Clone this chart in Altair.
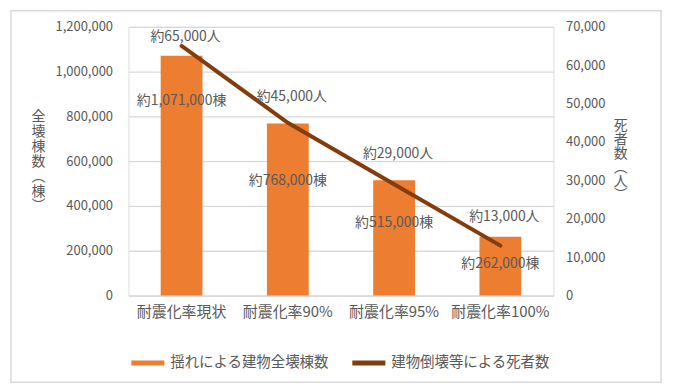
import altair as alt
import pandas as pd

categories = ["耐震化率現状", "耐震化率90%", "耐震化率95%", "耐震化率100%"]
buildings = [1071000, 768000, 515000, 262000]
deaths = [65000, 45000, 29000, 13000]
building_labels = ["約1,071,000棟", "約768,000棟", "約515,000棟", "約262,000棟"]
death_labels = ["約65,000人", "約45,000人", "約29,000人", "約13,000人"]
series_bar = "揺れによる建物全壊棟数"
series_line = "建物倒壊等による死者数"

# label offsets (styling, px)
bar_dy = [46, 58, 43, 27]
line_dy = [-9, -26, -30, -29]

FONT = "Noto Sans CJK JP"
GRAY = "#595959"
ORANGE = "#ED7D31"
BROWN = "#843C0C"

df = pd.DataFrame({
    "cat": categories,
    "buildings": buildings,
    "deaths": deaths,
    "blabel": building_labels,
    "dlabel": death_labels,
    "sb": [series_bar] * 4,
    "sl": [series_line] * 4,
})

base = alt.Chart(df)

x_enc = alt.X("cat:N", sort=categories, title=None,
              scale=alt.Scale(paddingInner=0.607, paddingOuter=0.3035),
              axis=alt.Axis(labelAngle=0, labelFontSize=15, labelColor=GRAY, labelFont=FONT,
                            ticks=False, domainColor="#D9D9D9", domainWidth=1.3,
                            labelPadding=9, grid=False))

color_scale = alt.Scale(domain=[series_bar, series_line], range=[ORANGE, BROWN])
legend = alt.Legend(title=None, orient="none", legendX=0, legendY=318, direction="horizontal",
                    symbolType="stroke", symbolSize=1100, symbolStrokeWidth=5,
                    labelFontSize=14.5, labelColor=GRAY, labelFont=FONT, columnPadding=12,
                    labelOffset=3)

y_left = alt.Y("buildings:Q", scale=alt.Scale(domain=[0, 1200000]),
               axis=alt.Axis(orient="left", values=[0, 200000, 400000, 600000, 800000, 1000000, 1200000],
                             format=",d", labelFontSize=13, labelColor=GRAY, labelFont=FONT,
                             ticks=False, tickSize=0, domain=False, labelPadding=16, labelOverlap=False,
                             gridColor="#D9D9D9", gridWidth=1.3,
                             title=["全", "壊", "棟", "数", "︵", "棟", "︶"],
                             titleAngle=0, titleFontSize=14, titleFont=FONT, titleColor=GRAY,
                             titleFontWeight="normal", titleLineHeight=15,
                             titleBaseline="middle", titleAlign="center",
                             titleX=-91, titleY=90))

bars = base.mark_bar(size=42).encode(
    x=x_enc, y=y_left,
    color=alt.Color("sb:N", scale=color_scale, legend=legend),
)

blayers = [bars]
for i, c in enumerate(categories):
    blayers.append(
        base.mark_text(font=FONT, fontSize=14, color=GRAY, baseline="middle", dy=bar_dy[i])
        .encode(x=x_enc, y=y_left, text="blabel:N")
        .transform_filter(alt.datum.cat == c)
    )
left = alt.layer(*blayers)

y_right = alt.Y("deaths:Q", scale=alt.Scale(domain=[0, 70000]),
                axis=alt.Axis(orient="right", values=[0, 10000, 20000, 30000, 40000, 50000, 60000, 70000],
                              format=",d", labelFontSize=13, labelColor=GRAY, labelFont=FONT,
                              ticks=False, tickSize=0, domain=False, labelPadding=12, grid=False,
                              labelOverlap=False,
                              title=["死", "者", "数", "︵", "人", "︶"],
                              titleAngle=0, titleFontSize=14, titleFont=FONT, titleColor=GRAY,
                              titleFontWeight="normal", titleLineHeight=14,
                              titleBaseline="middle", titleAlign="center",
                              titleX=67, titleY=99))

line = base.mark_line(strokeWidth=4, strokeCap="round").encode(
    x=x_enc, y=y_right,
    color=alt.Color("sl:N", scale=color_scale, legend=legend),
)
llayers = [line]
for i, c in enumerate(categories):
    llayers.append(
        base.mark_text(font=FONT, fontSize=14, color=GRAY, baseline="middle", dy=line_dy[i], dx=4)
        .encode(x=x_enc, y=y_right, text="dlabel:N")
        .transform_filter(alt.datum.cat == c)
    )
right = alt.layer(*llayers)

frame = alt.Chart(alt.Data(values=[{}])).mark_rect(fill=None, stroke="#D9D9D9", strokeWidth=1.5).encode(
    x=alt.value(-118), x2=alt.value(535), y=alt.value(-16), y2=alt.value(357)
)

chart = alt.layer(left, right, frame).resolve_scale(y="independent").properties(
    width=427, height=270, padding={"left": 2, "top": 1, "right": 4, "bottom": 4},
).configure_view(stroke=None).configure(background="white")

chart.save("out.html", embed_options={"renderer": "svg", "actions": False})
